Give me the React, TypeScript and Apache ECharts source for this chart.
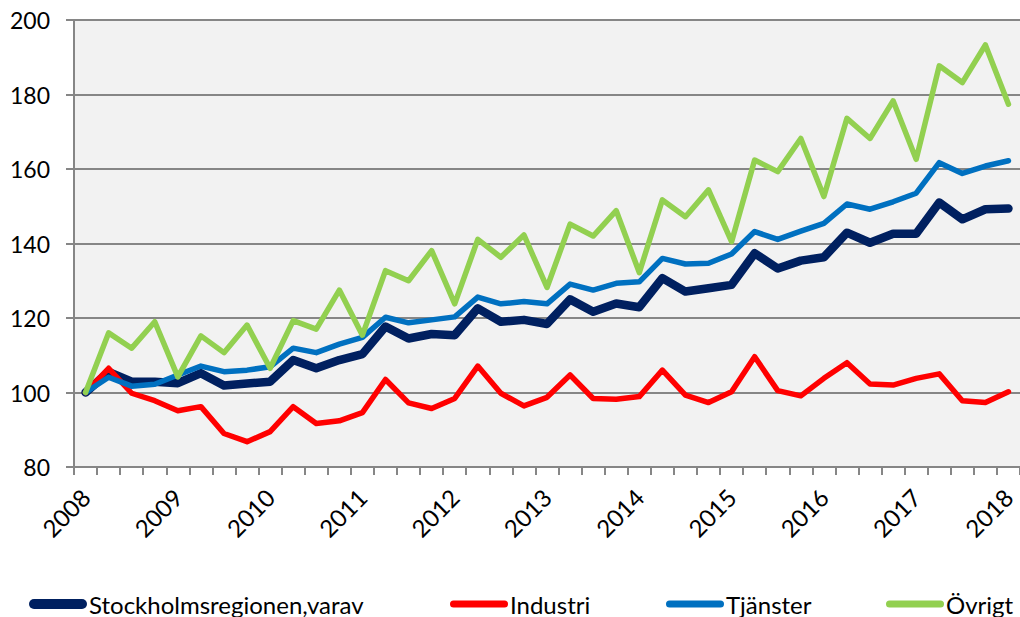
import React, { useEffect, useRef } from "react";
import * as echarts from "echarts";

const years = ["2008", "2009", "2010", "2011", "2012", "2013", "2014", "2015", "2016", "2017", "2018"];
const categories: string[] = [];
years.forEach((y, i) => {
  const qs = i === years.length - 1 ? 1 : 4;
  for (let q = 1; q <= qs; q++) categories.push(`${y} K${q}`);
});

const stockholm = [
  100, 105.5, 102.9, 102.9, 102.5, 105.2, 101.9, 102.4, 102.9, 108.7,
  106.5, 108.7, 110.3, 117.7, 114.5, 115.7, 115.4, 122.6, 119.0, 119.5,
  118.4, 125.0, 121.7, 123.9, 122.9, 130.7, 127.1, 128.0, 128.9, 137.4,
  133.3, 135.4, 136.3, 142.9, 140.2, 142.6, 142.6, 151.0, 146.5, 149.2,
  149.4,
];
const industri = [
  100, 106.5, 99.8, 97.8, 95.1, 96.2, 89.0, 86.8, 89.5, 96.2,
  91.7, 92.4, 94.6, 103.5, 97.2, 95.7, 98.4, 107.1, 99.8, 96.4,
  98.7, 104.7, 98.4, 98.2, 98.9, 106.0, 99.3, 97.3, 100.2, 109.6,
  100.5, 99.1, 103.8, 108.0, 102.3, 102.0, 103.8, 105.0, 97.8, 97.3,
  100.2,
];
const tjanster = [
  100, 104.1, 101.7, 102.2, 104.7, 107.1, 105.6, 106.0, 106.9, 111.9,
  110.7, 113.0, 114.8, 120.2, 118.7, 119.5, 120.3, 125.6, 123.8, 124.4,
  123.8, 129.1, 127.5, 129.3, 129.7, 136.0, 134.5, 134.7, 137.2, 143.2,
  141.1, 143.3, 145.4, 150.6, 149.2, 151.2, 153.5, 161.7, 158.8, 160.8,
  162.2,
];
const ovrigt = [
  100, 116.0, 111.9, 119.0, 104.2, 115.2, 110.7, 118.1, 106.5, 119.3,
  117.0, 127.5, 115.4, 132.7, 130.0, 138.1, 123.8, 141.1, 136.3, 142.3,
  128.2, 145.2, 142.0, 148.8, 132.2, 151.7, 147.2, 154.4, 140.5, 162.4,
  159.3, 168.2, 152.6, 173.6, 168.2, 178.3, 162.6, 187.7, 183.2, 193.3,
  177.4,
];

const seriesNames = ["Stockholmsregionen,varav", "Industri", "Tjänster", "Övrigt"];
const seriesColors = ["#002060", "#FF0000", "#0070C0", "#92D050"];
const seriesWidths = [8.5, 5.5, 5.5, 5.5];
const seriesData = [stockholm, industri, tjanster, ovrigt];
const legendLefts = [29, 450, 666, 886];

const FONT = "Lato, 'DejaVu Sans', sans-serif";
const thickIcon = "path://M5,0 H53 A5,5 0 0 1 53,10 H5 A5,5 0 0 1 5,0 Z";
const thinIcon = "path://M3.5,0 H54.5 A3.5,3.5 0 0 1 54.5,7 H3.5 A3.5,3.5 0 0 1 3.5,0 Z";

export default function App() {
  const ref = useRef<HTMLDivElement>(null);
  useEffect(() => {
    if (!ref.current) return;
    const chart = echarts.init(ref.current, undefined, { renderer: "svg" });
    chart.setOption({
      animation: false,
      backgroundColor: "#ffffff",
      textStyle: { fontFamily: FONT },
      grid: { left: 74, top: 20, width: 951, height: 447, backgroundColor: "#F2F2F2", show: true, borderWidth: 0 },
      legend: seriesNames.map((n, i) => ({
        data: [{ name: n, icon: i === 0 ? thickIcon : thinIcon }],
        left: legendLefts[i],
        top: 592,
        itemWidth: 58,
        itemHeight: 10,
        itemGap: 0,
        padding: 0,
        selectedMode: false,
        itemStyle: { borderWidth: 0 },
        textStyle: { fontFamily: FONT, fontSize: 24, color: "#000000", padding: [0, 0, 0, -3] },
      })),
      xAxis: {
        type: "category",
        data: categories,
        boundaryGap: true,
        axisLine: { show: true, lineStyle: { color: "#868686", width: 2 } },
        axisTick: { show: true, interval: 0, length: 8, lineStyle: { color: "#868686", width: 2 } },
        axisLabel: {
          interval: 3,
          rotate: 45,
          margin: 26,
          fontSize: 24,
          color: "#000000",
          fontFamily: FONT,
          formatter: (v: string) => v.slice(0, 4),
        },
        splitLine: { show: false },
      },
      yAxis: {
        type: "value",
        min: 80,
        max: 200,
        interval: 20,
        axisLine: { show: true, lineStyle: { color: "#868686", width: 2 } },
        axisTick: { show: true, length: 8, lineStyle: { color: "#868686", width: 2 } },
        axisLabel: { margin: 24, fontSize: 23, color: "#000000", fontFamily: FONT },
        splitLine: { show: true, lineStyle: { color: "#868686", width: 2 } },
      },
      series: seriesNames.map((n, i) => ({
        name: n,
        type: "line",
        data: seriesData[i],
        symbol: "none",
        showSymbol: false,
        color: seriesColors[i],
        itemStyle: { color: seriesColors[i] },
        lineStyle: { color: seriesColors[i], width: seriesWidths[i], cap: "round", join: "round" },
      })),
    });
    return () => chart.dispose();
  }, []);
  return <div ref={ref} style={{ position: "absolute", left: 0, top: 0, width: 1020, height: 617 }} />;
}
